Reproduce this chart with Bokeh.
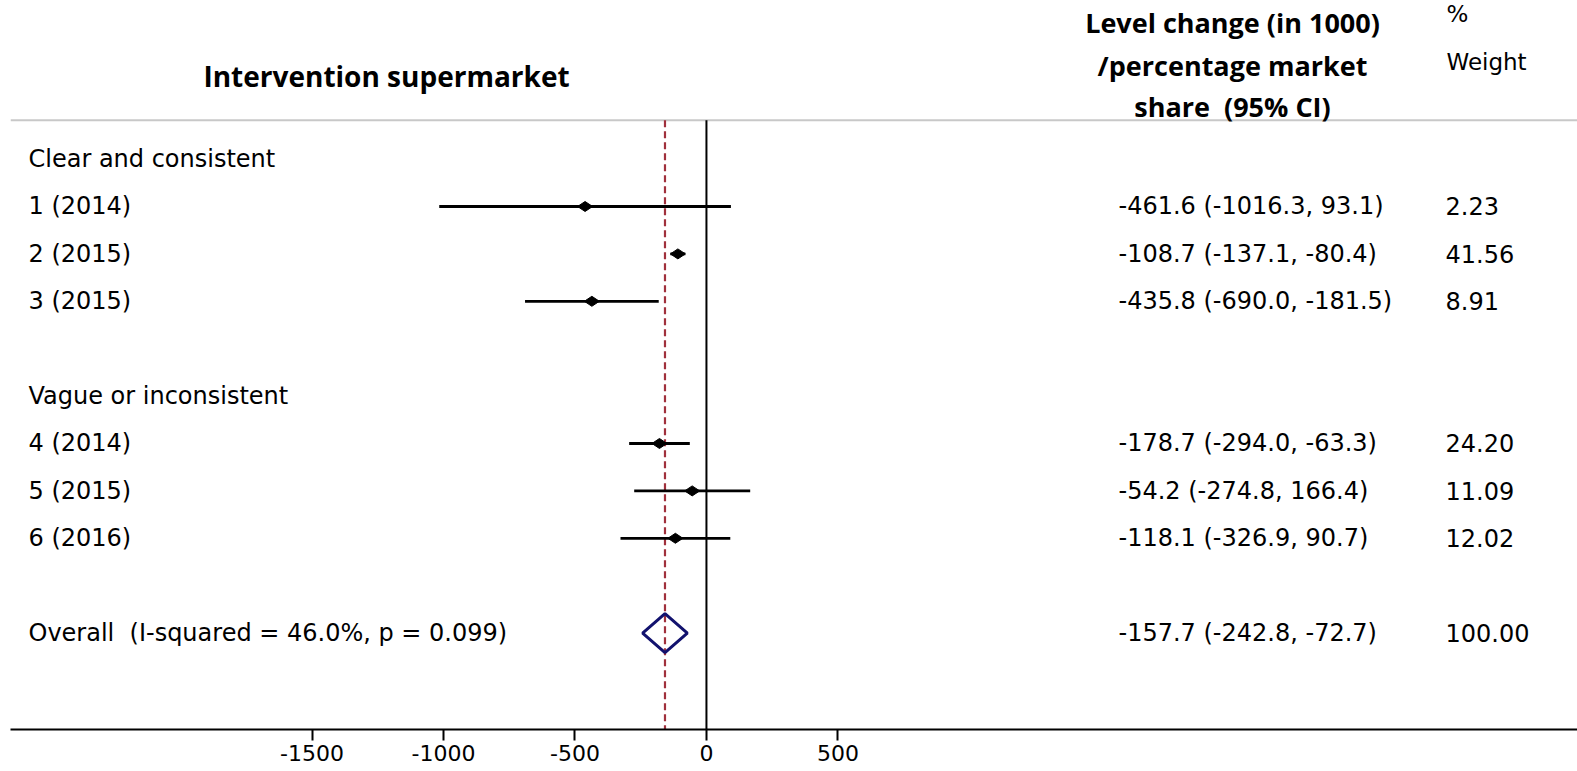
from bokeh.plotting import figure
from bokeh.models import Range1d, FixedTicker, ColumnDataSource
from bokeh.core.properties import value
from bokeh.embed import file_html
from bokeh.resources import INLINE
import math

# ---------------- data ----------------
study_labels = ["1 (2014)", "2 (2015)", "3 (2015)", "4 (2014)", "5 (2015)", "6 (2016)"]
study_rows = [1, 2, 3, 6, 7, 8]
group_labels = ["Clear and consistent", "Vague or inconsistent"]
group_rows = [0, 5]
estimates = [-461.6, -108.7, -435.8, -178.7, -54.2, -118.1]
ci_low = [-1016.3, -137.1, -690.0, -294.0, -274.8, -326.9]
ci_high = [93.1, -80.4, -181.5, -63.3, 166.4, 90.7]
weights = [2.23, 41.56, 8.91, 24.20, 11.09, 12.02]

overall_label = "Overall \u00a0(I-squared = 46.0%, p = 0.099)"
overall_row = 10
overall_est = -157.7
overall_low = -242.8
overall_high = -72.7
overall_weight = 100.00

tick_values = [-1500, -1000, -500, 0, 500]
tick_labels = ["-1500", "-1000", "-500", "0", "500"]

header_lines = ["Level change (in 1000)", "/percentage market", "share \u00a0(95% CI)"]

# ---------------- layout ----------------
X0, X1 = -2647, 3313
Y_BOTTOM, Y_TOP = 12.034, -3.346
SEP_ROW = -0.821
FONT = value("DejaVu Sans")
BOLD_FONT = value("Open Sans")
TXT = "24px"

p = figure(width=1577, height=771, output_backend="svg",
           toolbar_location=None, x_range=Range1d(X0, X1),
           y_range=Range1d(Y_BOTTOM, Y_TOP), y_axis_location=None,
           min_border=0, min_border_left=10, min_border_right=0,
           min_border_top=0, min_border_bottom=42)
p.outline_line_color = None
p.xgrid.visible = False
p.ygrid.visible = False
p.background_fill_color = "white"
p.border_fill_color = "white"

# axis
ax = p.xaxis[0]
ax.ticker = FixedTicker(ticks=tick_values)
ax.major_label_overrides = {v: s for v, s in zip(tick_values, tick_labels)}
ax.axis_line_width = 2
ax.axis_line_color = "black"
ax.major_tick_line_width = 2
ax.major_tick_line_color = "black"
ax.major_tick_out = 11
ax.major_tick_in = 0
ax.minor_tick_out = 0
ax.minor_tick_in = 0
ax.major_label_text_font = "DejaVu Sans"
ax.major_label_text_font_size = "22px"
ax.major_label_text_color = "black"
ax.major_label_standoff = 4

# separator line under header
p.segment(x0=[X0], x1=[X1], y0=[SEP_ROW], y1=[SEP_ROW], line_color="#c8c8c8", line_width=2)

# null line and overall dashed line
p.segment(x0=[0], x1=[0], y0=[SEP_ROW], y1=[Y_BOTTOM], line_color="black", line_width=2)
p.segment(x0=[overall_est], x1=[overall_est], y0=[SEP_ROW], y1=[Y_BOTTOM],
          line_color="#a0303c", line_width=2.2, line_dash="7 4")

# CIs and points
src = ColumnDataSource(dict(
    row=study_rows, est=estimates, lo=ci_low, hi=ci_high, lab=study_labels,
    ci_txt=[f"{e:.1f} ({l:.1f}, {h:.1f})" for e, l, h in zip(estimates, ci_low, ci_high)],
    w_txt=[f"{w:.2f}" for w in weights]))
p.segment(x0="lo", x1="hi", y0="row", y1="row", source=src, line_color="black", line_width=2.8)
p.scatter(x="est", y="row", source=src, marker="diamond", size=15, angle=math.pi / 2,
          fill_color="black", line_color="black")

# overall diamond
DH = 0.41
p.patch(x=[overall_low, overall_est, overall_high, overall_est],
        y=[overall_row, overall_row - DH, overall_row, overall_row + DH],
        fill_color=None, line_color="#12126e", line_width=3)

# left text column
p.text(x=X0, y="row", text="lab", source=src, x_offset=18, text_font=FONT,
       text_font_size=TXT, text_baseline="middle", text_align="left", text_color="black")
p.text(x=[X0] * 2, y=group_rows, text=group_labels, x_offset=18, text_font=FONT,
       text_font_size=TXT, text_baseline="middle", text_align="left", text_color="black")
p.text(x=[X0], y=[overall_row], text=[overall_label], x_offset=18, text_font=FONT,
       text_font_size=TXT, text_baseline="middle", text_align="left", text_color="black")

# right text columns
p.text(x=X0, y="row", text="ci_txt", source=src, x_offset=1108, text_font=FONT,
       text_font_size=TXT, text_baseline="middle", text_align="left", text_color="black")
p.text(x=X0, y="row", text="w_txt", source=src, x_offset=1435, text_font=FONT,
       text_font_size=TXT, text_baseline="middle", text_align="left", text_color="black")
p.text(x=[X0], y=[overall_row],
       text=[f"{overall_est:.1f} ({overall_low:.1f}, {overall_high:.1f})"], x_offset=1108,
       text_font=FONT, text_font_size=TXT, text_baseline="middle", text_align="left")
p.text(x=[X0], y=[overall_row], text=[f"{overall_weight:.2f}"], x_offset=1435,
       text_font=FONT, text_font_size=TXT, text_baseline="middle", text_align="left")

# headers
p.text(x=[X0], y=[-1.755], text=["Intervention supermarket"], x_offset=376,
       text_font=BOLD_FONT, text_font_style="bold", text_font_size="28px",
       text_baseline="middle", text_align="center")
p.text(x=[X0] * 3, y=[-2.882, -1.966, -1.118], text=header_lines,
       x_offset=1222, text_font=BOLD_FONT, text_font_style="bold", text_font_size="27px",
       text_baseline="middle", text_align="center")
p.text(x=[X0] * 2, y=[-3.07, -2.04], text=["%", "Weight"], x_offset=1436,
       text_font=FONT, text_font_size="23px", text_baseline="middle", text_align="left")

open("out.html", "w").write(file_html(p, INLINE))
